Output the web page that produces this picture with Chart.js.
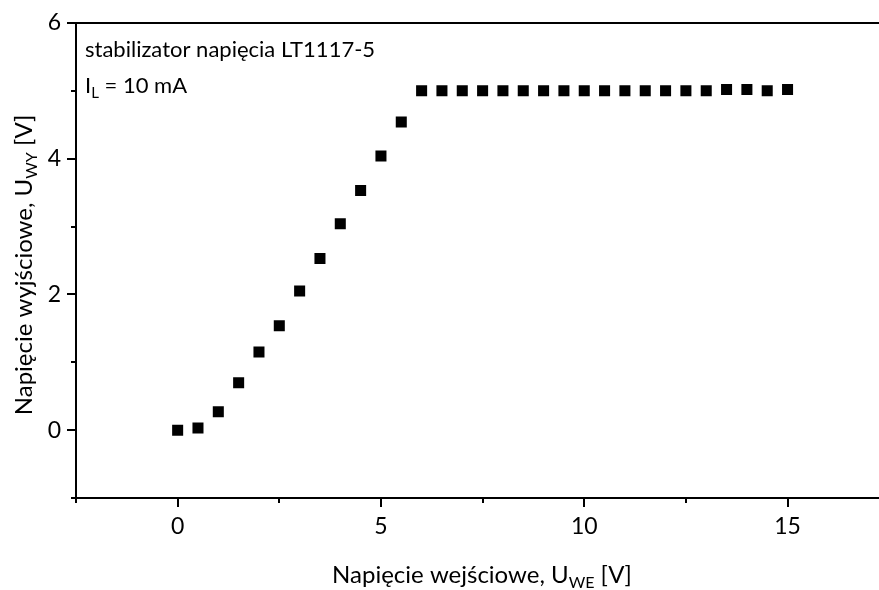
<!DOCTYPE html>
<html>
<head>
<meta charset="utf-8">
<script src="https://cdn.jsdelivr.net/npm/chart.js@4/dist/chart.umd.min.js"></script>
<style>
    html, body { margin: 0; padding: 0; background: #fff; overflow: hidden; }
    #wrap { width: 879px; height: 590px; overflow: hidden; }
</style>
</head>
<body>
<div id="wrap"><canvas id="chart" width="897" height="590"></canvas></div>
<script>
// measured points: input voltage vs output voltage
const inputVoltage = [0, 0.5, 1, 1.5, 2, 2.5, 3, 3.5, 4, 4.5, 5, 5.5, 6, 6.5, 7, 7.5,
    8, 8.5, 9, 9.5, 10, 10.5, 11, 11.5, 12, 12.5, 13, 13.5, 14, 14.5, 15];
const outputVoltage = [0, 0.03, 0.27, 0.70, 1.15, 1.54, 2.05, 2.53, 3.04, 3.53, 4.04, 4.54, 5.0, 5.0, 5.0, 5.0,
    5.0, 5.0, 5.0, 5.0, 5.0, 5.0, 5.0, 5.0, 5.0, 5.0, 5.0, 5.02, 5.02, 5.0, 5.02];

const xMajorTicks = [0, 5, 10, 15];
const xMinorTicks = [-2.5, 2.5, 7.5, 12.5, 17.5];
const yMajorTicks = [0, 2, 4, 6];
const yMinorTicks = [-1, 1, 3, 5];

const FONT = 'Lato, "Open Sans", sans-serif';

// draw a run of text with optional subscript parts
function drawParts(ctx, parts, x, y, size, align) {
    const subSize = Math.round(size * 0.68);
    let total = 0;
    parts.forEach(p => {
        ctx.font = (p.sub ? subSize : size) + 'px ' + FONT;
        p.w = ctx.measureText(p.t).width;
        total += p.w;
    });
    let cx = align === 'center' ? x - total / 2 : x;
    ctx.textAlign = 'left';
    ctx.textBaseline = 'alphabetic';
    parts.forEach(p => {
        ctx.font = (p.sub ? subSize : size) + 'px ' + FONT;
        ctx.fillText(p.t, cx, p.sub ? y + size * 0.22 : y);
        cx += p.w;
    });
}

const decorPlugin = {
    id: 'decor',
    afterDraw(chart) {
        const ctx = chart.ctx;
        const area = chart.chartArea;
        const xs = chart.scales.x, ys = chart.scales.y;
        ctx.save();
        ctx.strokeStyle = '#000';
        ctx.fillStyle = '#000';
        ctx.lineWidth = 2;

        // top frame line
        ctx.beginPath();
        ctx.moveTo(area.left - 1, area.top);
        ctx.lineTo(area.right + 1, area.top);
        ctx.stroke();

        // minor ticks
        ctx.beginPath();
        xMinorTicks.forEach(v => {
            const px = Math.round(xs.getPixelForValue(v));
            ctx.moveTo(px, area.bottom);
            ctx.lineTo(px, area.bottom + 5);
        });
        yMinorTicks.forEach(v => {
            const py = Math.round(ys.getPixelForValue(v));
            ctx.moveTo(area.left, py);
            ctx.lineTo(area.left - 5, py);
        });
        ctx.stroke();

        // annotation
        drawParts(ctx, [{ t: 'stabilizator napięcia LT1117-5' }], 85, 57, 22, 'left');
        drawParts(ctx, [{ t: 'I' }, { t: 'L', sub: true }, { t: ' = 10 mA' }], 85, 93, 22, 'left');

        // axis titles
        drawParts(ctx, [{ t: 'Napięcie wejściowe, U' }, { t: 'WE', sub: true }, { t: ' [V]' }], 482, 583, 24, 'center');
        ctx.translate(32, 265);
        ctx.rotate(-Math.PI / 2);
        drawParts(ctx, [{ t: 'Napięcie wyjściowe, U' }, { t: 'WY', sub: true }, { t: ' [V]' }], 0, 0, 24, 'center');
        ctx.restore();
    }
};

const ctx = document.getElementById('chart').getContext('2d');
new Chart(ctx, {
    type: 'scatter',
    data: {
        datasets: [{
            data: inputVoltage.map((v, i) => ({ x: v, y: outputVoltage[i] })),
            pointStyle: 'rect',
            pointRadius: 7.8,
            pointHoverRadius: 7.8,
            backgroundColor: '#000',
            borderColor: '#000',
            borderWidth: 0
        }]
    },
    options: {
        responsive: false,
        animation: false,
        devicePixelRatio: 1,
        layout: { padding: { top: 23, right: 1, left: 0, bottom: 0 } },
        plugins: { legend: { display: false }, tooltip: { enabled: false } },
        scales: {
            x: {
                type: 'linear',
                min: -2.5,
                max: 17.5,
                afterBuildTicks: s => { s.ticks = xMajorTicks.map(v => ({ value: v })); },
                afterFit: s => { s.height = 92; },
                ticks: { color: '#000', font: { family: FONT, size: 23 }, padding: 6, maxRotation: 0 },
                grid: { drawOnChartArea: false, tickLength: 9, lineWidth: 2, color: '#000' },
                border: { display: true, width: 2, color: '#000' }
            },
            y: {
                type: 'linear',
                min: -1,
                max: 6,
                afterBuildTicks: s => { s.ticks = yMajorTicks.map(v => ({ value: v })); },
                afterFit: s => { s.width = 76; },
                ticks: { color: '#000', font: { family: FONT, size: 23 }, padding: 6 },
                grid: { drawOnChartArea: false, tickLength: 9, lineWidth: 2, color: '#000' },
                border: { display: true, width: 2, color: '#000' }
            }
        }
    },
    plugins: [decorPlugin]
});
</script>
</body>
</html>
